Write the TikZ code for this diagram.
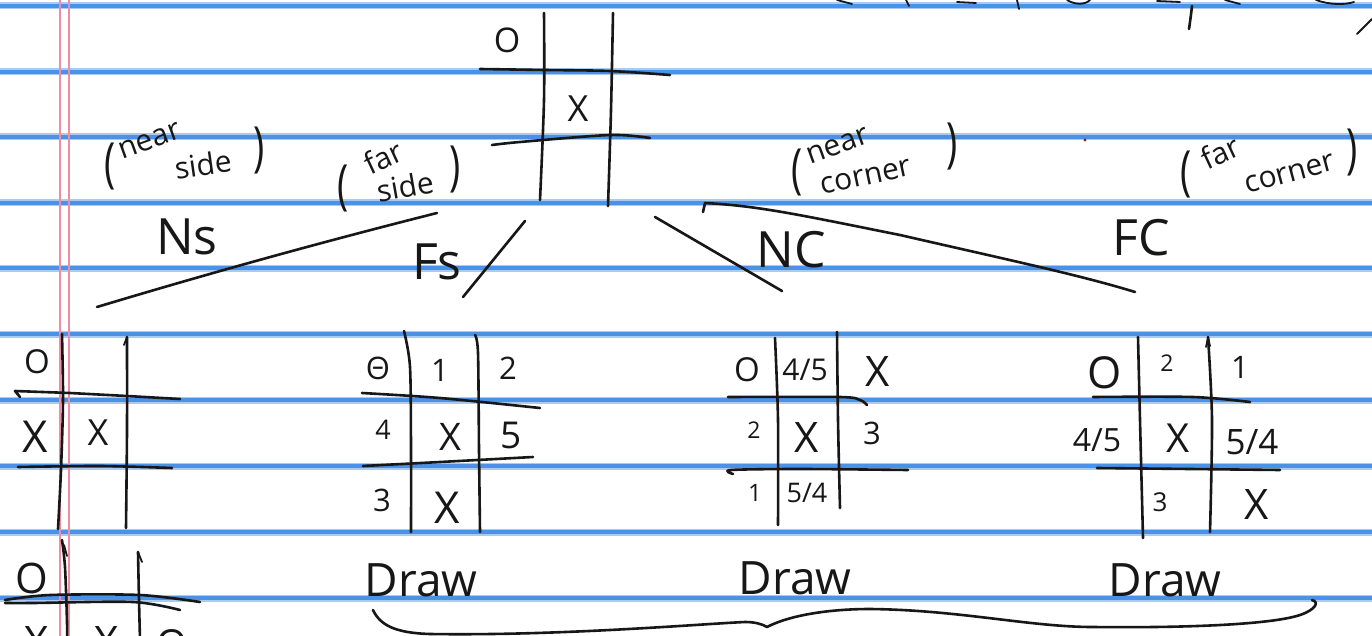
\documentclass[tikz,border=0pt]{standalone}
\usepackage{fontspec}
\setmainfont{Open Sans}
\definecolor{rulecol}{HTML}{4A92E8}
\definecolor{rulelite}{HTML}{A9CBF2}
\definecolor{margincol}{HTML}{EE8EA6}
\definecolor{ink}{HTML}{171717}
\definecolor{dotcol}{HTML}{7A2A2A}
\newcommand\hwsize[1]{\fontsize{#1}{#1}\selectfont}
\tikzset{
  rulerline/.style={draw=rulecol, line width=4.5pt},
  rulerhalo/.style={draw=rulelite, line width=7pt},
  marginline/.style={draw=margincol, line width=2.4pt},
  inkline/.style={draw=ink, line width=2.6pt, line cap=round, line join=round},
  fineink/.style={draw=ink, line width=1.8pt, line cap=round, line join=round},
  hw/.style={text=ink, inner sep=0pt},
  cellnum/.style={hw, font=\hwsize{31}},
  cellx/.style={hw, font=\hwsize{42}},
  branchlab/.style={hw, font=\hwsize{50}},
  drawlab/.style={hw, font=\hwsize{46}},
  notelab/.style={hw, font=\hwsize{30}},
  parenlab/.style={hw, font=\hwsize{54}, xscale=0.7},
}
\begin{document}
\begin{tikzpicture}[x=1pt,y=-1pt]
\clip (0,0) rectangle (1372,636);
\fill[white] (0,0) rectangle (1372,636);
% ruled paper
\foreach \yy in {6,72,137,203,268,334,400,466,532,598}{
  \draw[rulerhalo] (0,\yy) -- (1372,\yy);
  \draw[rulerline] (0,\yy) -- (1372,\yy);
}
\draw[marginline] (60,0) -- (60,636);
\draw[marginline] (69,0) -- (69,636);

% cut-off writing at the top edge
\draw[fineink] (837,0) -- (852,4);
\draw[fineink] (906,0) -- (909,6);
\draw[fineink] (957,2) -- (976,3);
\draw[fineink] (1017,0) -- (1019,9);
\draw[fineink] (1067,0) .. controls (1075,5) and (1085,5) .. (1090,0);
\draw[fineink] (1157,1) -- (1180,2);
\draw[inkline] (1192,6) .. controls (1191,15) and (1190,22) .. (1189,29);
\draw[fineink] (1225,0) -- (1240,4);
\draw[fineink] (1316,0) .. controls (1330,5) and (1345,5) .. (1354,2);
\draw[fineink] (1357,34) -- (1372,19);
\fill[dotcol] (1085,140) circle (1.6);

% ---------- top board ----------
\node[minimum width=190pt, minimum height=195pt, inner sep=0pt] (top) at (575,108) {};
\draw[inkline] plot[smooth] coordinates {(544,13) (544,100) (540,200)};
\draw[inkline] plot[smooth] coordinates {(613,13) (611,110) (608,206)};
\draw[inkline] plot[smooth] coordinates {(480,69) (545,70) (610,71) (670,75)};
\draw[inkline] plot[smooth] coordinates {(492,145) (520,142) (610,135) (650,138)};
\node[cellnum, font=\hwsize{34}] (t00) at (507,40) {O};
\node[cellx, font=\hwsize{36}] (t11) at (578,109) {X};

% ---------- labels ----------
\node[parenlab] (nsl) at (110,166) {(};
\node[notelab, rotate=20] (nsw1) at (150,141) {near};
\node[notelab, rotate=8] (nsw2) at (203,164) {side};
\node[parenlab] (nsr) at (259,150) {)};

\node[parenlab] (fsl) at (343,188) {(};
\node[notelab, rotate=25] (fsw1) at (383,157) {far};
\node[notelab, rotate=10] (fsw2) at (405,186) {side};
\node[parenlab] (fsr) at (455,169) {)};

\node[parenlab] (ncl) at (797,172) {(};
\node[notelab, rotate=20] (ncw1) at (838,146) {near};
\node[notelab, rotate=12] (ncw2) at (866,177) {corner};
\node[parenlab] (ncr) at (952,146) {)};

\node[parenlab] (fcl) at (1186,174) {(};
\node[notelab, rotate=25] (fcw1) at (1220,152) {far};
\node[notelab, rotate=15] (fcw2) at (1290,174) {corner};
\node[parenlab] (fcr) at (1352,152) {)};

\node[branchlab] (ns) at (187,237) {Ns};
\node[branchlab] (fs) at (437,262) {Fs};
\node[branchlab] (nc) at (791,250) {NC};
\node[branchlab] (fc) at (1141,238) {FC};

% ---------- branch strokes ----------
\coordinate (b1s) at (437,213);
\coordinate (b1e) at (97,307);
\coordinate (b2s) at (525,221);
\coordinate (b2e) at (463,297);
\coordinate (b3s) at (655,217);
\coordinate (b3e) at (782,291);
\coordinate (b4s) at (703,212);
\coordinate (b4e) at (1135,292);
\draw[inkline] (b1s) .. controls (330,240) and (220,270) .. (b1e);
\draw[inkline] (b2s) -- (b2e);
\draw[inkline] (b3s) -- (b3e);
\draw[inkline] (b4s) -- (705,203) .. controls (760,206) and (800,215) .. (900,235) .. controls (1000,258) and (1080,275) .. (b4e);

% ---------- Ns board ----------
\draw[inkline] plot[smooth] coordinates {(62,334) (63,400) (61,470) (58,529)};
\draw[fineink] (124,345) -- (127,337);
\draw[inkline] plot[smooth] coordinates {(127,337) (127,430) (126,528)};
\draw[inkline] (20,397) -- (15,391) -- (70,393) -- (127,396) -- (180,399);
\draw[inkline] plot[smooth] coordinates {(18,467) (100,466) (172,468)};
\node[cellnum, font=\hwsize{33}] (a00) at (37,362) {O};
\node[cellx, font=\hwsize{44}] (a10) at (35,437) {X};
\node[cellx, font=\hwsize{36}] (a11) at (98,433) {X};

% ---------- Fs board ----------
\draw[inkline] plot[smooth] coordinates {(404,331) (410,367) (411,450) (411,532)};
\draw[inkline] plot[smooth] coordinates {(475,335) (478,353) (479,450) (480,532)};
\draw[inkline] plot[smooth] coordinates {(362,393) (440,398) (540,408)};
\draw[inkline] plot[smooth] coordinates {(363,466) (440,462) (533,457)};
\node[cellnum] (b00) at (378,368) {Θ};
\node[cellnum] (b01) at (440,370) {1};
\node[cellnum] (b02) at (508,368) {2};
\node[cellnum, font=\hwsize{27}] (b10) at (383,430) {4};
\node[cellx, font=\hwsize{38}] (b11) at (450,437) {X};
\node[cellnum, font=\hwsize{37}] (b12) at (511,435) {5};
\node[cellnum] (b20) at (382,500) {3};
\node[cellx, font=\hwsize{44}] (b21) at (447,508) {X};

% ---------- NC board ----------
\draw[inkline] plot[smooth] coordinates {(775,338) (778,420) (778,525)};
\draw[inkline] plot[smooth] coordinates {(837,332) (838,420) (840,508)};
\draw[inkline] plot[smooth] coordinates {(728,397) (840,397) (860,400) (867,405)};
\draw[inkline] plot[smooth] coordinates {(733,474) (731,470) (800,469) (908,470)};
\node[cellnum, font=\hwsize{33}] (c00) at (747,370) {O};
\node[cellnum, font=\hwsize{30}] (c01) at (805,370) {4/5};
\node[cellx] (c02) at (878,372) {X};
\node[cellnum, font=\hwsize{23}] (c10) at (754,430) {2};
\node[cellx] (c11) at (807,438) {X};
\node[cellnum] (c12) at (872,433) {3};
\node[cellnum, font=\hwsize{24}] (c20) at (755,493) {1};
\node[cellnum, font=\hwsize{27}] (c21) at (807,493) {5/4};

% ---------- FC board ----------
\draw[inkline] plot[smooth] coordinates {(1138,337) (1140,420) (1143,538)};
\draw[inkline] plot[smooth] coordinates {(1208,337) (1212,420) (1210,532)};
\draw[fineink] (1206,347) -- (1208,337) -- (1210,346);
\draw[inkline] plot[smooth] coordinates {(1093,397) (1193,397) (1250,402)};
\draw[inkline] plot[smooth] coordinates {(1097,468) (1190,469) (1280,470)};
\node[cellnum, font=\hwsize{44}] (d00) at (1105,373) {O};
\node[cellnum, font=\hwsize{23}] (d01) at (1167,363) {2};
\node[cellnum] (d02) at (1240,367) {1};
\node[cellnum, font=\hwsize{32}] (d10) at (1097,440) {4/5};
\node[cellx, font=\hwsize{40}] (d11) at (1178,438) {X};
\node[cellnum, font=\hwsize{35}] (d12) at (1252,442) {5/4};
\node[cellnum, font=\hwsize{26}] (d21) at (1160,502) {3};
\node[cellx] (d22) at (1257,505) {X};

% ---------- bottom board (cut off) ----------
\draw[inkline] plot[smooth] coordinates {(62,540) (65,567) (67,622) (67,640)};
\draw[fineink] (64,545) -- (67,556);
\draw[inkline] plot[smooth] coordinates {(138,552) (139,600) (140,640)};
\draw[fineink] (138,552) -- (142,562);
\draw[inkline] plot[smooth] coordinates {(5,600) (50,595) (140,595) (200,602)};
\draw[inkline] plot[smooth] coordinates {(5,603) (33,603) (133,602) (180,610)};
\node[cellnum, font=\hwsize{42}] (e00) at (32,578) {O};
\node[cellx] (e10) at (37,642) {X};
\node[cellx] (e11) at (107,642) {X};
\node[cellnum, font=\hwsize{40}] (e12) at (172,644) {O};

% ---------- draws and brace ----------
\node[drawlab] (dr1) at (421,580) {Draw};
\node[drawlab] (dr2) at (795,578) {Draw};
\node[drawlab] (dr3) at (1165,580) {Draw};
\coordinate (brl) at (373,610);
\coordinate (brm) at (767,627);
\coordinate (brr) at (1312,600);
\draw[inkline] (brl) .. controls (380,625) and (395,633) .. (430,634)
  .. controls (560,636) and (700,624) .. (745,622)
  .. controls (755,622) and (762,624) .. (brm)
  .. controls (790,615) and (830,609) .. (870,609)
  .. controls (960,610) and (1030,627) .. (1093,627)
  .. controls (1180,628) and (1270,625) .. (1300,615)
  .. controls (1315,610) and (1320,602) .. (brr);
\end{tikzpicture}
\end{document}
